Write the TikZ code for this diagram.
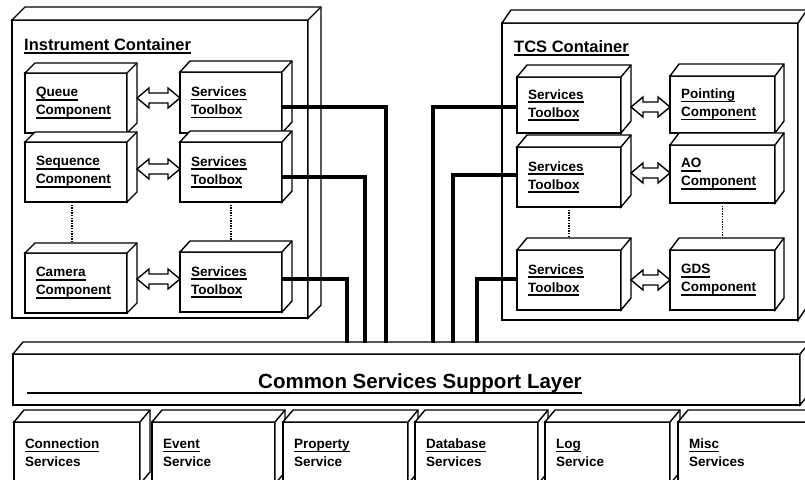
\documentclass[tikz,border=0pt]{standalone}
\usepackage{fontspec}
\setmainfont{Liberation Sans}
\usetikzlibrary{calc}
\newcommand\ulx[1]{\leavevmode\setbox0=\hbox{#1}\rlap{\rule[-3.6pt]{\wd0}{1.3pt}}\box0}
\newcommand\lbl{\bfseries\fontsize{13.5}{18}\selectfont}
\newcommand\contfont{\bfseries\fontsize{16.5}{20}\selectfont}
\newcommand\cubefaces[3]{%
  \filldraw[face] (#1.north west) -- ++(#2,-#3) -- ($(#1.north east)+(#2,-#3)$) -- ($(#1.south east)+(#2,-#3)$) -- (#1.south east) -- (#1.north east) -- cycle;
  \draw[face] (#1.north east) -- ++(#2,-#3);}
\newcommand\dblarr[2]{%
  \filldraw[arrowst] let \p1=#1, \p2=#2 in
    (\x1,\y1) -- ++(12pt,10pt) -- ++(0,-5pt) -- ({\x2-12pt},{\y1+5pt}) -- ({\x2-12pt},{\y1+10pt})
    -- (\x2,\y1) -- ({\x2-12pt},{\y1-10pt}) -- ({\x2-12pt},{\y1-5pt}) -- ({\x1+12pt},{\y1-5pt})
    -- ({\x1+12pt},{\y1-10pt}) -- cycle;}
\tikzset{
  face/.style={draw=black, fill=white, line width=1.4pt, line join=miter},
  cube/.style 2 args={draw=black, fill=white, line width=1.7pt, anchor=north west,
    inner sep=0pt, outer sep=0pt, minimum width=#1, minimum height=#2, inner xsep=11pt,
    align=left, /utils/exec={\pgfmathsetmacro\tw{#1-22}}, text width=\tw pt, font=\lbl},
  arrowst/.style={draw=black, fill=white, line width=1.4pt, line join=miter},
  bus/.style={draw=black, line width=4pt, line join=miter},
  dotline/.style={draw=black, line width=1.3pt, dash pattern=on 1.3pt off 1.3pt},
  uline/.style={draw=black, line width=1.4pt},
  title/.style={anchor=base west, inner sep=0pt, font=\contfont},
}
\begin{document}
\begin{tikzpicture}[x=1pt, y=-1pt]
\useasboundingbox (0,0) rectangle (805,479);
\clip (0,0) rectangle (805,479);
\fill[white] (0,0) rectangle (805,479);

% containers
\node[cube={296}{298}] (icont) at (12,20) {};
\cubefaces{icont}{13}{13}
\node[title] (ilabel) at (24,50) {\ulx{Instrument Container}};
\node[cube={296}{297}] (tcont) at (502,23) {};
\cubefaces{tcont}{9}{13}
\node[title] (tlabel) at (514,52) {\ulx{TCS Container}};

% instrument container boxes
\node[cube={102}{60}] (queue) at (25,73) {\ulx{Queue}\\\ulx{Component}};
\cubefaces{queue}{10}{10}
\node[cube={102}{61}] (itb1) at (180,72) {\ulx{Services}\\\ulx{Toolbox}};
\cubefaces{itb1}{10}{11}
\node[cube={102}{60}] (seq) at (25,142) {\ulx{Sequence}\\\ulx{Component}};
\cubefaces{seq}{10}{10}
\node[cube={102}{60}] (itb2) at (180,142) {\ulx{Services}\\\ulx{Toolbox}};
\cubefaces{itb2}{10}{11}
\node[cube={102}{60}] (cam) at (25,253) {\ulx{Camera}\\\ulx{Component}};
\cubefaces{cam}{10}{10}
\node[cube={102}{60}] (itb3) at (180,252) {\ulx{Services}\\\ulx{Toolbox}};
\cubefaces{itb3}{10}{11}

% TCS container boxes
\node[cube={104}{56}] (ttb1) at (517,77) {\ulx{Services}\\\ulx{Toolbox}};
\cubefaces{ttb1}{10}{12}
\node[cube={105}{57}] (point) at (670,76) {\ulx{Pointing}\\\ulx{Component}};
\cubefaces{point}{9}{12}
\node[cube={104}{60}] (ttb2) at (517,147) {\ulx{Services}\\\ulx{Toolbox}};
\cubefaces{ttb2}{10}{12}
\node[cube={105}{58}] (ao) at (670,145) {\ulx{AO}\\\ulx{Component}};
\cubefaces{ao}{9}{12}
\node[cube={104}{60}] (ttb3) at (517,250) {\ulx{Services}\\\ulx{Toolbox}};
\cubefaces{ttb3}{10}{12}
\node[cube={105}{60}] (gds) at (670,250) {\ulx{GDS}\\\ulx{Component}};
\cubefaces{gds}{9}{12}

% dotted links
\draw[dotline] ([xshift=-4pt]seq.south) -- ($(seq.south |- cam.north)+(-4,-10)$);
\draw[dotline] (itb2.south) -- ($(itb2.south |- itb3.north)+(0,-11)$);
\draw[dotline] (ttb2.south) -- ($(ttb2.south |- ttb3.north)+(0,-12)$);
\draw[dotline] (ao.south) -- ($(ao.south |- gds.north)+(0,-12)$);

% double arrows
\dblarr{($(queue.east)+(10,-5)$)}{(itb1.west)}
\dblarr{($(seq.east)+(10,-3)$)}{(itb2.west)}
\dblarr{($(cam.east)+(10,-4)$)}{(itb3.west)}
\dblarr{($(ttb1.east)+(10,2)$)}{(point.west)}
\dblarr{($(ttb2.east)+(10,-4)$)}{(ao.west)}
\dblarr{($(ttb3.east)+(10,0)$)}{(gds.west)}

% common services support layer
\node[cube={787}{51}] (csl) at (13,354) {};
\cubefaces{csl}{10}{12}
\node[anchor=base west, inner sep=0pt, font=\bfseries\fontsize{20.5}{24}\selectfont] (csltext) at (258,388) {Common Services Support Layer};
\draw[uline] ($(csl.south west)+(14,-12)$) -- ($(csltext.base east)+(0,5)$);

% bus drop points on the layer
\coordinate (d1) at (386,343);
\coordinate (d2) at (365,343);
\coordinate (d3) at (347,343);
\coordinate (d4) at (433,343);
\coordinate (d5) at (453,343);
\coordinate (d6) at (477,343);
\draw[bus] ([yshift=-4.5pt]itb1.east) -| (d1);
\draw[bus] ([yshift=-5pt]itb2.east) -| (d2);
\draw[bus] ([yshift=3pt]itb3.east) -| (d3);
\draw[bus] ([yshift=-2pt]ttb1.west) -| (d4);
\draw[bus] ([yshift=2pt]ttb2.west) -| (d5);
\draw[bus] ([yshift=1pt]ttb3.west) -| (d6);

% service boxes
\node[cube={126}{62}] (conn) at (14,422) {\ulx{Connection}\\Services};
\cubefaces{conn}{10}{12}
\node[cube={123}{62}] (event) at (152,422) {\ulx{Event}\\Service};
\cubefaces{event}{10}{12}
\node[cube={125}{62}] (prop) at (283,422) {\ulx{Property}\\Service};
\cubefaces{prop}{10}{12}
\node[cube={123}{62}] (db) at (415,422) {\ulx{Database}\\Services};
\cubefaces{db}{10}{12}
\node[cube={125}{62}] (log) at (545,422) {\ulx{Log}\\Service};
\cubefaces{log}{10}{12}
\node[cube={140}{62}] (misc) at (678,422) {\ulx{Misc}\\Services};
\cubefaces{misc}{10}{12}
\end{tikzpicture}
\end{document}
